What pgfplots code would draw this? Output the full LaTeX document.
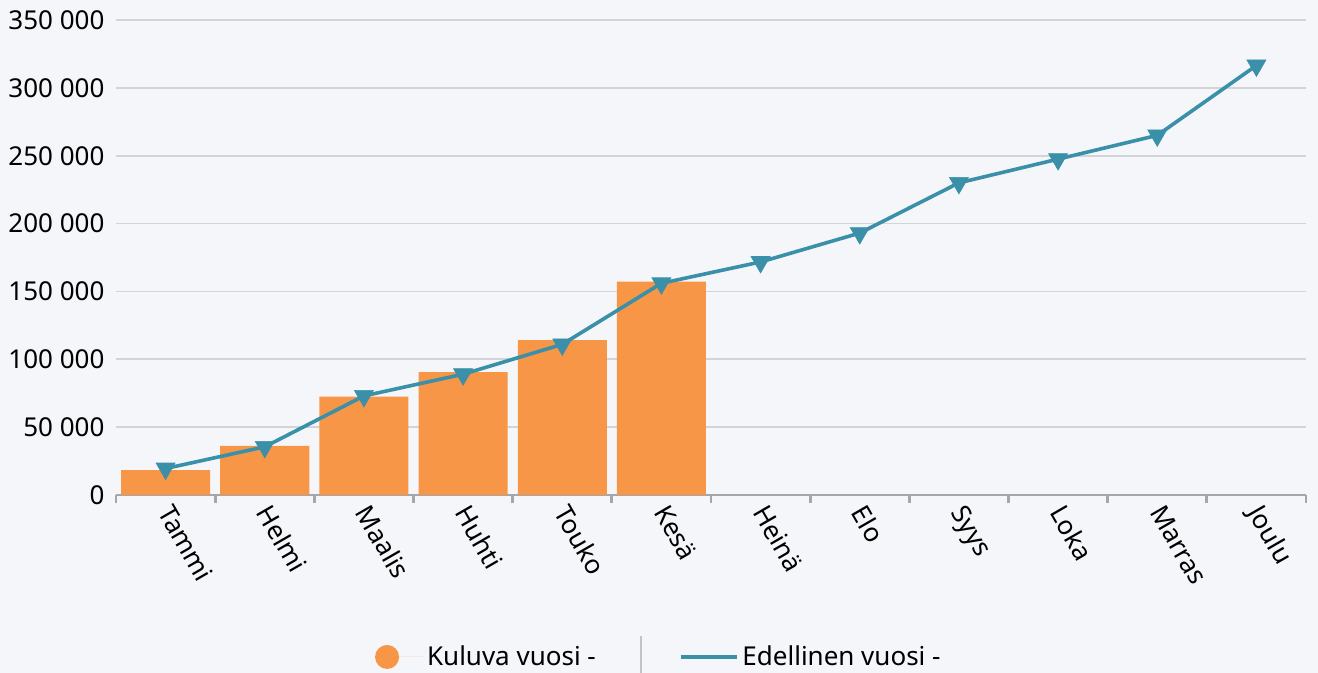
\documentclass[border=0pt]{standalone}
\usepackage{pgfplots}
\pgfplotsset{compat=1.18}
\usepackage{fontspec}
\setmainfont{Noto Sans}
\definecolor{bg}{HTML}{F4F6FA}
\definecolor{barc}{HTML}{F79646}
\definecolor{linec}{HTML}{3A90A8}
\definecolor{gridc}{HTML}{D2D4D9}
\definecolor{axc}{HTML}{A3A6AB}
\begin{document}
\begin{tikzpicture}[font=\fontsize{13}{15.5}\selectfont]
\fill[bg] (0,0) rectangle (659pt,336.5pt);
\useasboundingbox (0,0) rectangle (659pt,336.5pt);
\begin{axis}[
  at={(58pt,89pt)}, anchor=south west,
  scale only axis, width=595pt, height=237.5pt,
  xmin=-0.5, xmax=11.5, ymin=0, ymax=350000,
  scaled y ticks=false,
  axis x line*=bottom, axis y line*=left,
  x axis line style={axc, line width=1pt, -},
  y axis line style={draw=none},
  xtick={0,...,11},
  xticklabels={Tammi,Helmi,Maalis,Huhti,Touko,Kesä,Heinä,Elo,Syys,Loka,Marras,Joulu},
  major x tick style={draw=none},
  minor xtick={-0.5,0.5,...,11.5},
  minor x tick style={axc, line width=1.4pt},
  minor tick length=4pt,
  tick align=outside,
  x tick label style={xshift=4.5pt, yshift=2pt, rotate=-60, anchor=north west, inner sep=1pt},
  ytick={0,50000,100000,150000,200000,250000,300000,350000},
  yticklabels={0,50 000,100 000,150 000,200 000,250 000,300 000,350 000},
  ytick style={draw=none},
  y tick label style={xshift=2pt},
  ymajorgrids, grid style={gridc, line width=0.8pt},
  legend columns=2,
  legend style={at={(axis description cs:0.457,-0.341)}, anchor=center,
    draw=none, fill=none, font=\fontsize{13}{15.5}\selectfont,
    /tikz/every even column/.append style={column sep=39.5pt}},
]
\addplot[ybar, bar width=44.5pt, fill=barc, draw=none,
  legend image code/.code={\path (0,0) -- (24pt,0); \fill[barc] (6pt,0) circle (6pt);}]
  coordinates {(0,18400) (1,36100) (2,72400) (3,90600) (4,114200) (5,157200)};
\addlegendentry{Kuluva vuosi -}
\addplot[linec, line width=1.8pt, mark=triangle*, mark size=5.5pt,
  mark options={rotate=180, fill=linec, draw=linec, line width=0.3pt},
  legend image code/.code={\path (0,0) -- (28pt,0); \draw[linec, line width=1.4pt] (0,0) -- (18.5pt,0);}]
  coordinates {(0,19500) (1,35500) (2,73000) (3,89000) (4,111000) (5,156000)
    (6,171700) (7,193000) (8,230000) (9,247500) (10,265000) (11,316500)};
\addlegendentry{Edellinen vuosi -}
\end{axis}
\draw[gridc!80!gray, line width=1pt] (320.5pt,0) -- (320.5pt,18.5pt);
\end{tikzpicture}
\end{document}
